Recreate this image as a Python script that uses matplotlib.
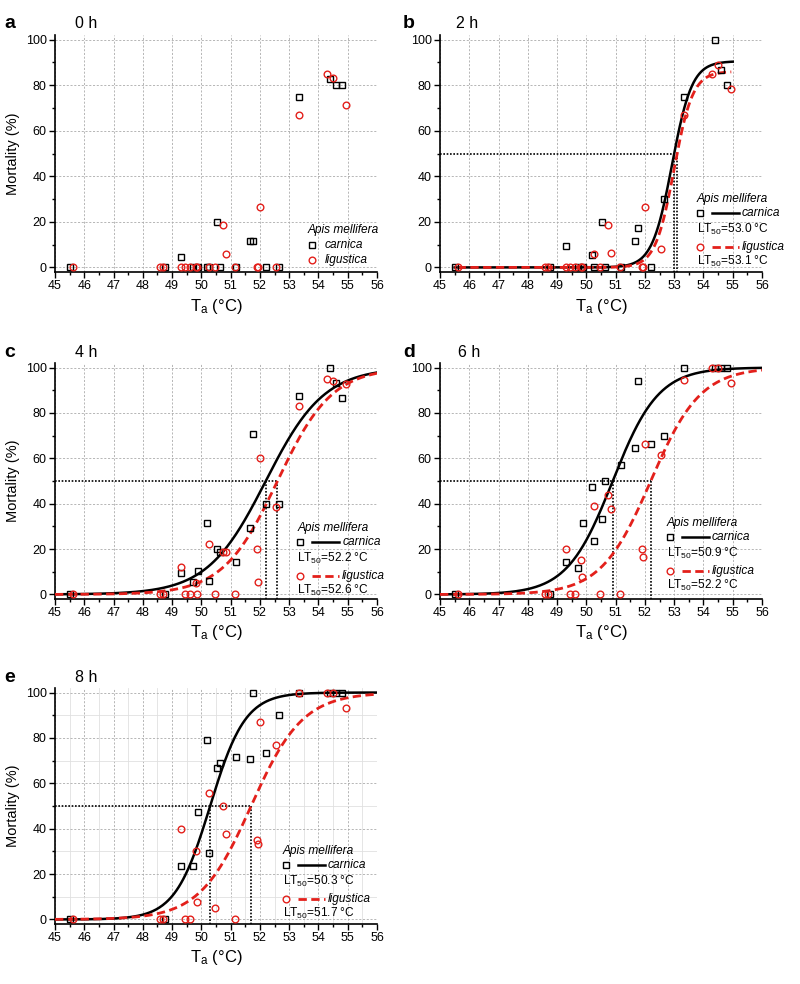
import numpy as np
import matplotlib
matplotlib.use("Agg")
import matplotlib.pyplot as plt
from matplotlib.ticker import MultipleLocator

plt.rcParams['font.family'] = ['Liberation Sans', 'DejaVu Sans']
plt.rcParams['mathtext.fontset'] = 'custom'
plt.rcParams['mathtext.rm'] = 'Liberation Sans'
plt.rcParams['mathtext.it'] = 'Liberation Sans:italic'

# exposure temperatures (°C)
ta_carnica = [45.5, 48.75, 49.3, 49.7, 49.9, 50.2, 50.25, 50.55, 50.65, 51.2,
              51.65, 51.75, 52.2, 52.65, 53.35, 54.4, 54.6, 54.8]
ta_ligustica = [45.6, 48.6, 48.7, 49.3, 49.45, 49.6, 49.8, 49.85, 50.25, 50.45,
                50.75, 50.85, 51.15, 51.9, 51.95, 52.0, 52.55, 53.35, 54.3, 54.5, 54.95]

# mortality (%) of A. m. carnica
carnica_0h = [0, 0, 4.7, 0, 0, 0, 0, 20, 0, 0, 11.7, 11.7, 0, 0, 75, 82.5, 80, 80]
carnica_2h = [0, 0, 9.4, 0, 0, 5.4, 0, 20, 0, 0, 11.7, 17.5, 0, 30, 75, 100, 86.8, 80]
carnica_4h = [0, 0, 9.5, 5.5, 10.5, 31.4, 5.8, 20, 18.5, 14.2, 29.2, 70.5, 40, 40, 87.6, 100, 93.4, 86.6]
carnica_6h = [0, 0, 14.3, 11.7, 31.4, 47.3, 23.4, 33.1, 50, 56.9, 64.7, 94.2, 66.4, 69.8, 100, 100, 100, 100]
carnica_8h = [0, 0, 23.7, 23.4, 47.3, 79, 29.3, 66.8, 68.8, 71.4, 70.6, 100, 73.4, 90, 100, 100, 100, 100]

# mortality (%) of A. m. ligustica
ligustica_0h = [0, 0, 0, 0, 0, 0, 0, 0, 0, 0, 18.6, 6.1, 0, 0, 0, 26.6, 0, 66.7, 85, 83.3, 71.5]
ligustica_2h = [0, 0, 0, 0, 0, 0, 0, 0, 5.8, 0, 18.8, 6.3, 0, 0, 0, 26.6, 7.9, 66.8, 85, 88.8, 78.5]
ligustica_4h = [0, 0, 0, 12, 0, 0, 5.1, 0, 22.3, 0, 18.7, 18.7, 0, 20, 5.6, 60, 38.7, 83.2, 95, 94.2, 92.7]
ligustica_6h = [0, 0, 0, 20, 0, 0, 15, 7.6, 39, 0, 43.8, 37.5, 0, 20, 16.5, 66.4, 61.3, 94.5, 100, 100, 93]
ligustica_8h = [0, 0, 0, 40, 0, 0, 30, 7.5, 55.6, 5.1, 50, 37.5, 0, 34.8, 33.3, 86.8, 77, 100, 100, 100, 93]

hours = ['0 h', '2 h', '4 h', '6 h', '8 h']
letters = ['a', 'b', 'c', 'd', 'e']

# logistic fit parameters (None = no fit shown)
lt50_carnica = [None, 53.0, 52.2, 50.9, 50.3]
lt50_ligustica = [None, 53.1, 52.6, 52.2, 51.7]
slope_carnica = [None, 0.34, 1.0, 0.78, 0.6]
slope_ligustica = [None, 0.32, 0.93, 0.85, 0.88]
top_carnica = [None, 90.5, 100, 100, 100]
top_ligustica = [None, 86, 100, 100, 100]
fit_from_carnica = [None, 45.5, 45, 45, 45]
fit_to_carnica = [None, 55.0, 56, 56, 56]
fit_from_ligustica = [None, 45.6, 45, 45, 45]
fit_to_ligustica = [None, 54.95, 56, 56, 56]

carnica = [carnica_0h, carnica_2h, carnica_4h, carnica_6h, carnica_8h]
ligustica = [ligustica_0h, ligustica_2h, ligustica_4h, ligustica_6h, ligustica_8h]

RED = '#e3201b'
W, H = 800, 984
fig = plt.figure(figsize=(8, 9.84), dpi=100)

# axes rectangles in pixels: left, top, right, bottom
rects = [(55, 35, 377, 272), (440, 35, 762, 272),
         (55, 363, 377, 599), (440, 363, 762, 599),
         (55, 688, 377, 924)]
label_pos = [(4, 75, 28), (403, 456, 28), (4, 75, 357), (403, 458, 357), (4, 75, 682)]
legend_anchor = [(0.786, 0.177), (0.798, 0.308), (0.752, 0.301), (0.705, 0.322), (0.708, 0.309)]


def logistic(x, lt50, s, top):
    return top / (1 + (top / 50.0 - 1) * np.exp(-(x - lt50) / s))


for i in range(5):
    l, t, r, b = rects[i]
    ax = fig.add_axes([l / W, 1 - b / H, (r - l) / W, (b - t) / H])
    ax.set_xlim(45, 56)
    ax.set_ylim(-2, 102)
    ax.xaxis.set_major_locator(MultipleLocator(1))
    ax.xaxis.set_minor_locator(MultipleLocator(0.5))
    ax.yaxis.set_major_locator(MultipleLocator(20))
    ax.yaxis.set_minor_locator(MultipleLocator(10))
    for sp in ['top', 'right']:
        ax.spines[sp].set_visible(False)
    for sp in ['left', 'bottom']:
        ax.spines[sp].set_linewidth(1.2)
    ax.tick_params(which='major', direction='out', length=4, width=1, labelsize=9, pad=2)
    ax.tick_params(which='minor', direction='out', length=2.5, width=1)
    if i == 4:
        ax.grid(which='minor', color='#e0e0e0', lw=0.6, ls='-')
    ax.grid(which='major', color='#ababab', lw=0.6, ls=(0, (2.5, 2)))
    ax.set_axisbelow(True)
    ax.get_xgridlines()[-1].set_visible(False)

    ax.set_xlabel('T$_\\mathregular{a}$ (°C)', fontsize=12, labelpad=3)
    if i % 2 == 0:
        ax.set_ylabel('Mortality (%)', fontsize=10.5, labelpad=4)

    fig.text(label_pos[i][0] / W, 1 - label_pos[i][2] / H, letters[i],
             fontsize=14, fontweight='bold', va='baseline')
    fig.text(label_pos[i][1] / W, 1 - label_pos[i][2] / H, hours[i],
             fontsize=11.5, va='baseline')

    if lt50_carnica[i] is not None:
        xc = np.linspace(fit_from_carnica[i], fit_to_carnica[i], 300)
        xl = np.linspace(fit_from_ligustica[i], fit_to_ligustica[i], 300)
        ax.plot(xc, logistic(xc, lt50_carnica[i], slope_carnica[i], top_carnica[i]),
                color='black', lw=1.8, zorder=3)
        ax.plot(xl, logistic(xl, lt50_ligustica[i], slope_ligustica[i], top_ligustica[i]),
                color=RED, lw=2, ls=(0, (3, 1.6)), zorder=3)
        lt_max = max(lt50_carnica[i], lt50_ligustica[i])
        ax.plot([45, lt_max], [50, 50], color='black', lw=1.2, ls=(0, (1, 1)), zorder=2)
        for lt in (lt50_carnica[i], lt50_ligustica[i]):
            ax.plot([lt, lt], [50, -2], color='black', lw=1.2, ls=(0, (1, 1)), zorder=2)

    ax.plot(ta_carnica, carnica[i], ls='none', marker='s', ms=4, mfc='none',
            mec='black', mew=1, zorder=4, clip_on=False)
    ax.plot(ta_ligustica, ligustica[i], ls='none', marker='o', ms=4.8, mfc='none',
            mec=RED, mew=1, zorder=4, clip_on=False)

    # legend block
    ax_x, ax_y = legend_anchor[i]
    px = 1.0 / (r - l)
    py = 1.0 / (b - t)
    tr = ax.transAxes
    kw = dict(transform=tr, fontsize=8.6, va='center', clip_on=False)
    ax.text(ax_x, ax_y, 'Apis mellifera', style='italic', **kw)
    if lt50_carnica[i] is None:
        rows = [ax_y - 15 * py, ax_y - 30 * py]
        mx = ax_x + 4 * px
        ax.plot([mx], [rows[0]], marker='s', ms=4, mfc='none', mec='black', mew=1,
                transform=tr, clip_on=False)
        ax.plot([mx], [rows[1]], marker='o', ms=4.8, mfc='none', mec=RED, mew=1,
                transform=tr, clip_on=False)
        ax.text(ax_x + 17 * px, rows[0], 'carnica', style='italic', **kw)
        ax.text(ax_x + 17 * px, rows[1], 'ligustica', style='italic', **kw)
    else:
        r1 = ax_y - 14 * py
        r2 = ax_y - 30 * py
        r3 = ax_y - 48 * py
        r4 = ax_y - 62 * py
        mx = ax_x + 3 * px
        ax.plot([mx], [r1], marker='s', ms=4, mfc='none', mec='black', mew=1,
                transform=tr, clip_on=False)
        ax.plot([ax_x + 15 * px, ax_x + 42 * px], [r1, r1], color='black', lw=1.8,
                transform=tr, clip_on=False)
        ax.text(ax_x + 45 * px, r1, 'carnica', style='italic', **kw)
        ax.text(ax_x, r2, 'LT$_\\mathregular{50}$=%.1f °C' % lt50_carnica[i], **kw)
        ax.plot([mx], [r3], marker='o', ms=4.8, mfc='none', mec=RED, mew=1,
                transform=tr, clip_on=False)
        ax.plot([ax_x + 15 * px, ax_x + 42 * px], [r3, r3], color=RED, lw=2,
                ls=(0, (3, 1.6)), transform=tr, clip_on=False)
        ax.text(ax_x + 45 * px, r3, 'ligustica', style='italic', **kw)
        ax.text(ax_x, r4, 'LT$_\\mathregular{50}$=%.1f °C' % lt50_ligustica[i], **kw)

fig.savefig('out.png', dpi=100)
